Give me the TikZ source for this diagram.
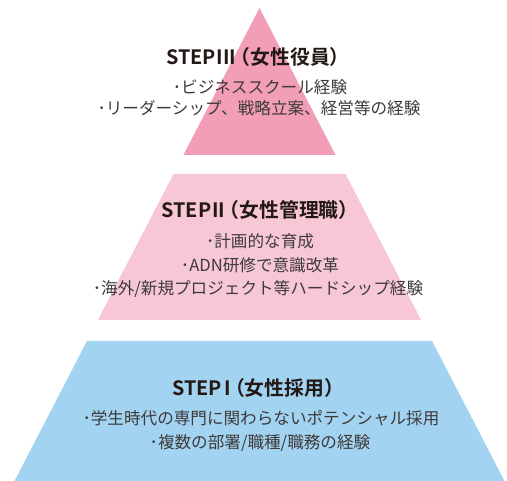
\documentclass[tikz,border=0pt]{standalone}
\usepackage{fontspec}
\setmainfont{Noto Sans CJK JP}[BoldFont={Noto Sans CJK JP Bold}]
\definecolor{topc}{HTML}{F19EB6}
\definecolor{midc}{HTML}{F7C7D6}
\definecolor{botc}{HTML}{A2D3F1}
\definecolor{titc}{HTML}{231815}
\definecolor{txtc}{HTML}{3E3A39}
\newcommand{\lpar}{\kern-0.28em（}
\tikzset{
  ttl/.style={font=\bfseries\fontsize{19.8}{22}\selectfont, text=titc, inner sep=0pt, anchor=center},
  bdy/.style={font=\fontsize{16.6}{19}\selectfont, text=txtc, inner sep=0pt, anchor=center}
}
\begin{document}
\begin{tikzpicture}[x=1pt,y=-1pt]
\useasboundingbox (0,0) rectangle (507,481);
% layers
\fill[topc] (259.5,8) -- (335.6,155) -- (183.4,155) -- cycle;
\fill[midc] (173.5,174) -- (345.5,174) -- (421.1,320) -- (97.9,320) -- cycle;
\fill[botc] (87,341) -- (432,341) -- (504.5,481) -- (14.5,481) -- cycle;
% top texts
\node[ttl] (t3) at (258,57) {STEP\kern0.05em III\lpar 女性役員）};
\node[bdy] (t3a) at (260,87) {･ビジネススクール経験};
\node[bdy] (t3b) at (259,108) {･リーダーシップ、戦略立案、経営等の経験};
% middle texts
\node[ttl] (t2) at (260,210) {STEP\kern0.05em II\lpar 女性管理職）};
\node[bdy] (t2a) at (260,241) {･計画的な育成};
\node[bdy] (t2b) at (260,265) {･ADN研修で意識改革};
\node[bdy] (t2c) at (258,289) {･海外/新規プロジェクト等ハードシップ経験};
% bottom texts
\node[ttl] (t1) at (258,388) {STEP\kern0.12em I\lpar 女性採用）};
\node[bdy] (t1a) at (261,418) {･学生時代の専門に関わらないポテンシャル採用};
\node[bdy] (t1b) at (260,443) {･複数の部署/職種/職務の経験};
\end{tikzpicture}
\end{document}
